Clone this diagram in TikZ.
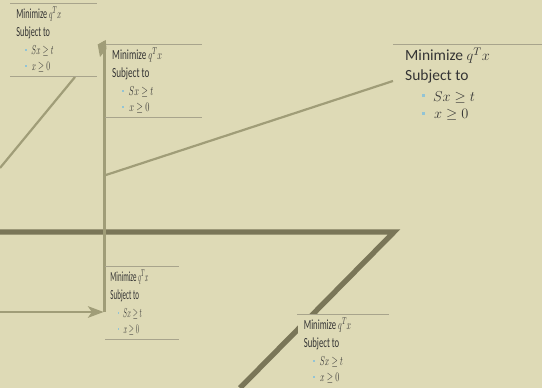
\documentclass[tikz,border=0pt]{standalone}
\usepackage{fontspec}
\setmainfont{Carlito}
\usetikzlibrary{arrows.meta}
\definecolor{bgc}{RGB}{222,218,182}
\definecolor{linec}{RGB}{160,157,120}
\definecolor{thickc}{RGB}{122,118,88}
\definecolor{rulec}{RGB}{168,164,140}
\definecolor{txtc}{RGB}{52,52,52}
\definecolor{bulc}{RGB}{146,196,214}
\tikzset{
  conn/.style={draw=linec, line width=2.2pt},
  thickpath/.style={draw=thickc, line width=5.3pt, miter limit=10},
  rulestyle/.style={draw=rulec, line width=1pt},
  boxtext/.style={anchor=base west, inner sep=0pt, text=txtc, font=\fontsize{15.5}{18}\selectfont},
}
\newcommand\optbox[6]{%
\begin{scope}[shift={(#2,388-#3)}, xscale=#4, yscale=#5, transform shape]
  \fill[bgc] (2.5,0) rectangle (164,-81);
  \draw[rulestyle] (0,0) -- (164,0);
  \ifnum#6=1 \draw[rulestyle] (0,-81) -- (164,-81);\fi
  \node[boxtext] (#1t) at (12,-16) {Minimize $q^{T}x$};
  \node[boxtext] (#1s) at (12,-36) {Subject to};
  \fill[bulc] (28.5,-49.5) rectangle ++(3,-3);
  \fill[bulc] (28.5,-67.5) rectangle ++(3,-3);
  \node[boxtext] (#1a) at (40,-56.5) {$Sx\ge t$};
  \node[boxtext] (#1b) at (41,-74) {$x\ge 0$};
\end{scope}}
\begin{document}
\begin{tikzpicture}[x=1pt,y=1pt]
  \useasboundingbox (0,0) rectangle (542,388);
  \fill[bgc] (0,0) rectangle (542,388);
  \clip (0,0) rectangle (542,388);
  % thick path
  \coordinate (tk1) at (0,156);
  \coordinate (tk2) at (394,156);
  \coordinate (tk3) at (240,0);
  \draw[thickpath] (tk1) -- (tk2) -- (tk3);
  % thin connectors
  \coordinate (c1a) at (75,311);
  \coordinate (c1b) at (0,220);
  \draw[conn] (c1a) -- (c1b);
  \coordinate (vbot) at (104.4,76);
  \coordinate (vtop) at (104.4,347);
  \draw[conn] (vbot) -- (vtop);
  \coordinate (lin) at (0,76);
  \coordinate (b4in) at (103.6,76);
  \draw[conn,-{Stealth[length=15.7pt,width=11.6pt,inset=4pt]}] (lin) -- (b4in);
  \coordinate (v2) at (104.4,212.5);
  \coordinate (b3in) at (393,307);
  \draw[conn] (v2) -- (b3in);
  % boxes
  \optbox{bA}{10}{4}{0.53}{0.9}{1}
  \optbox{bB}{105}{45}{0.59}{0.9}{1}
  \optbox{bC}{393}{45}{1}{1}{0}
  \optbox{bD}{105}{267}{0.45}{0.9}{1}
  \optbox{bE}{297}{315}{0.56}{0.9}{0}
  % partly hidden arrowhead at top of the vertical connector
  \fill[linec] (105.7,348) -- (97.7,343.5) -- (100,331) -- (106.5,339) -- cycle;
\end{tikzpicture}
\end{document}
